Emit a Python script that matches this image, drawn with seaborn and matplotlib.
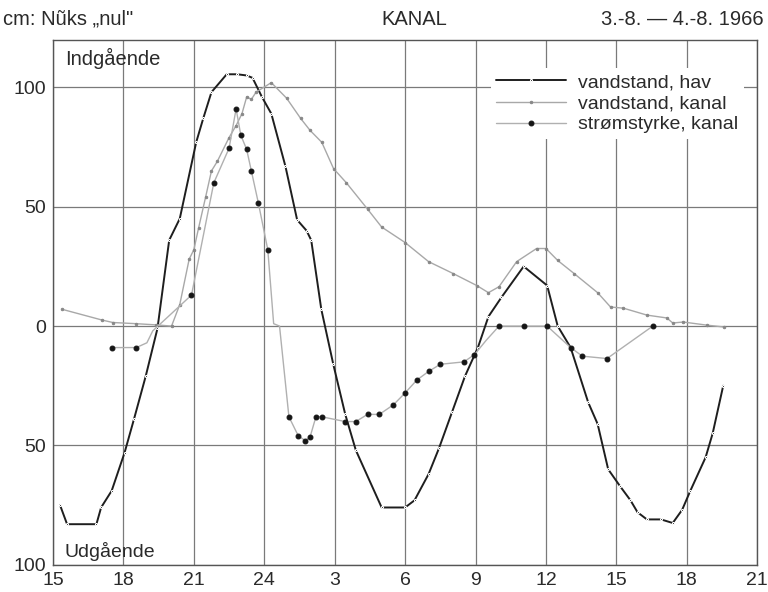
import numpy as np
import pandas as pd
import matplotlib
matplotlib.use('Agg')
import matplotlib.pyplot as plt
import seaborn as sns

# ---------------------------------------------------
# DATA (timer regnet fra kl. 15 den 3.-8.; 24 = midnat, 45 = kl. 21 den 4.-8.)
# ---------------------------------------------------
HAV_T = [15.3, 15.6, 16.85, 17.05, 17.5, 18.05, 18.45, 18.95, 19.45, 19.95, 20.4,
         21.1, 21.4, 21.75, 22.4, 22.85, 23.25, 23.5, 23.9, 24.3, 24.9, 25.4, 25.8,
         26.0, 26.43, 26.94, 27.45, 27.9, 29.0, 30.0, 30.4, 31.0, 31.45, 32.0, 32.55,
         33.1, 33.55, 34.1, 35.05, 36.05, 36.5, 37.05, 37.8, 38.2, 38.65, 39.15, 39.6,
         39.9, 40.3, 40.9, 41.4, 41.8, 42.15, 42.8, 43.1, 43.55]
HAV_V = [-75, -83, -83, -76, -69, -53, -39, -21, -1, 36, 45,
         77, 87, 98, 105.5, 105.5, 105, 104, 96, 89, 67, 44.5, 40,
         36, 7, -16, -37, -52, -76, -76, -73, -62, -51, -36, -21,
         -9, 4, 12, 25, 17, 0, -9, -32, -41, -60, -67, -73,
         -78, -81, -81, -82.5, -77, -69, -55, -45, -25]

KANAL_T = [15.4, 17.1, 17.55, 18.55, 19.4, 20.05, 20.4, 20.8, 21.0, 21.2, 21.5, 21.75,
           22.0, 22.5, 22.8, 23.05, 23.25, 23.45, 23.65, 24.3, 24.95, 25.55, 25.95,
           26.45, 26.95, 27.5, 28.4, 29.0, 30.0, 31.0, 32.05, 33.05, 33.55, 34.0,
           34.75, 35.6, 36.0, 36.5, 37.2, 38.2, 38.75, 39.3, 40.3, 41.15, 41.4, 41.85,
           42.85, 43.6]
KANAL_V = [7, 2.5, 1.5, 1, 0.5, 0, 9, 28, 32, 41, 54, 65,
           69, 79, 84, 89, 96, 95, 98, 102, 95.5, 87, 82,
           77, 66, 60, 49, 41.5, 35, 27, 22, 17, 14, 16.5,
           27, 32.5, 32.5, 27.5, 22, 14, 8, 7.5, 4.6, 3.4, 1.3, 1.7,
           0.4, -0.4]

STROM_T = [17.5, 18.55, 19.0, 19.25, 20.9, 21.85, 22.5, 22.8, 23.0, 23.25, 23.45, 23.75,
           24.15, 24.4, 24.65, 25.05, 25.45, 25.75, 25.95, 26.2, 26.45, 27.45, 27.9,
           28.4, 28.9, 29.5, 30.0, 30.5, 31.0, 31.5, 32.5, 32.95, 33.45, 34.0, 35.05,
           36.05, 37.05, 37.55, 38.6, 40.55]
STROM_V = [-9, -9, -7, -2, 13, 60, 74.5, 91, 80, 74, 65, 51.5,
           32, 1, 0, -38, -46, -48, -46.5, -38, -38, -40, -40,
           -37, -37, -33, -28, -22.6, -19, -16, -15, -12, -6, 0, 0,
           0, -9, -12.6, -13.6, 0]

X_TICKS = [15, 18, 21, 24, 27, 30, 33, 36, 39, 42, 45]
X_LABELS = ['15', '18', '21', '24', '3', '6', '9', '12', '15', '18', '21']
Y_TICKS = [-100, -50, 0, 50, 100]
Y_LABELS = ['100', '50', '0', '50', '100']
# ---------------------------------------------------


def main():
    sns.set_theme(style="white")
    plt.rcParams['font.family'] = ['Liberation Sans', 'DejaVu Sans']
    ink = '#2a2a2a'

    fig = plt.figure(figsize=(7.68, 5.92), dpi=100)
    ax = fig.add_axes([0.069, 0.046, 0.917, 0.887])

    hav = pd.DataFrame({'t': HAV_T, 'v': HAV_V})
    kanal = pd.DataFrame({'t': KANAL_T, 'v': KANAL_V})
    strom = pd.DataFrame({'t': STROM_T, 'v': STROM_V})

    # punkter uden prik paa stroemkurven
    no_dot = {2, 3, 13, 14, 32}
    strom_dots = [i for i in range(len(STROM_T)) if i not in no_dot]

    sns.lineplot(data=hav, x='t', y='v', ax=ax, color='#1e1e1e', lw=1.4,
                 marker='.', markersize=3, label='vandstand, hav', sort=False)
    sns.lineplot(data=kanal, x='t', y='v', ax=ax, color='#a8a8a8', lw=1.0,
                 marker='.', markersize=3.5, markerfacecolor='#888888',
                 markeredgecolor='#888888', label='vandstand, kanal', sort=False)
    sns.lineplot(data=strom, x='t', y='v', ax=ax, color='#b0b0b0', lw=1.0,
                 marker='o', markersize=3.5, markerfacecolor='#151515',
                 markeredgecolor='#151515', markevery=strom_dots,
                 label='strømstyrke, kanal', sort=False)

    ax.set_xlim(15, 45)
    ax.set_ylim(-100, 120)
    ax.set_xticks(X_TICKS)
    ax.set_xticklabels(X_LABELS)
    ax.set_yticks(Y_TICKS)
    ax.set_yticklabels(Y_LABELS)
    ax.set_xlabel('')
    ax.set_ylabel('')
    ax.grid(True, color='#7a7a7a', lw=0.9)
    ax.set_axisbelow(True)
    ax.tick_params(axis='both', labelsize=14, length=4, direction='out', pad=1,
                   colors='#555555', labelcolor=ink)
    for s in ax.spines.values():
        s.set_color('#555555')
        s.set_linewidth(1.0)

    ax.text(0.017, 0.985, 'Indgående', transform=ax.transAxes, fontsize=14.5,
            color=ink, va='top', ha='left')
    ax.text(0.017, 0.008, 'Udgående', transform=ax.transAxes, fontsize=14,
            color=ink, va='bottom', ha='left')

    fig.text(0.004, 0.958, 'cm: Nũks „nul"', fontsize=14.5, color=ink,
             ha='left', va='baseline')
    fig.text(0.54, 0.958, 'KANAL', fontsize=14.5, color=ink,
             ha='center', va='baseline')
    fig.text(0.994, 0.958, '3.-8. — 4.-8. 1966', fontsize=14.5, color=ink,
             ha='right', va='baseline')

    leg = ax.legend(loc='upper right', bbox_to_anchor=(0.995, 0.965),
                    fontsize=14, frameon=True, handlelength=3.6,
                    labelspacing=0.18, borderpad=0.3, handletextpad=0.6)
    leg.get_frame().set_facecolor('white')
    leg.get_frame().set_edgecolor('none')
    leg.get_frame().set_alpha(1)
    for txt in leg.get_texts():
        txt.set_color(ink)

    fig.savefig('out.png', dpi=100)


if __name__ == "__main__":
    main()
